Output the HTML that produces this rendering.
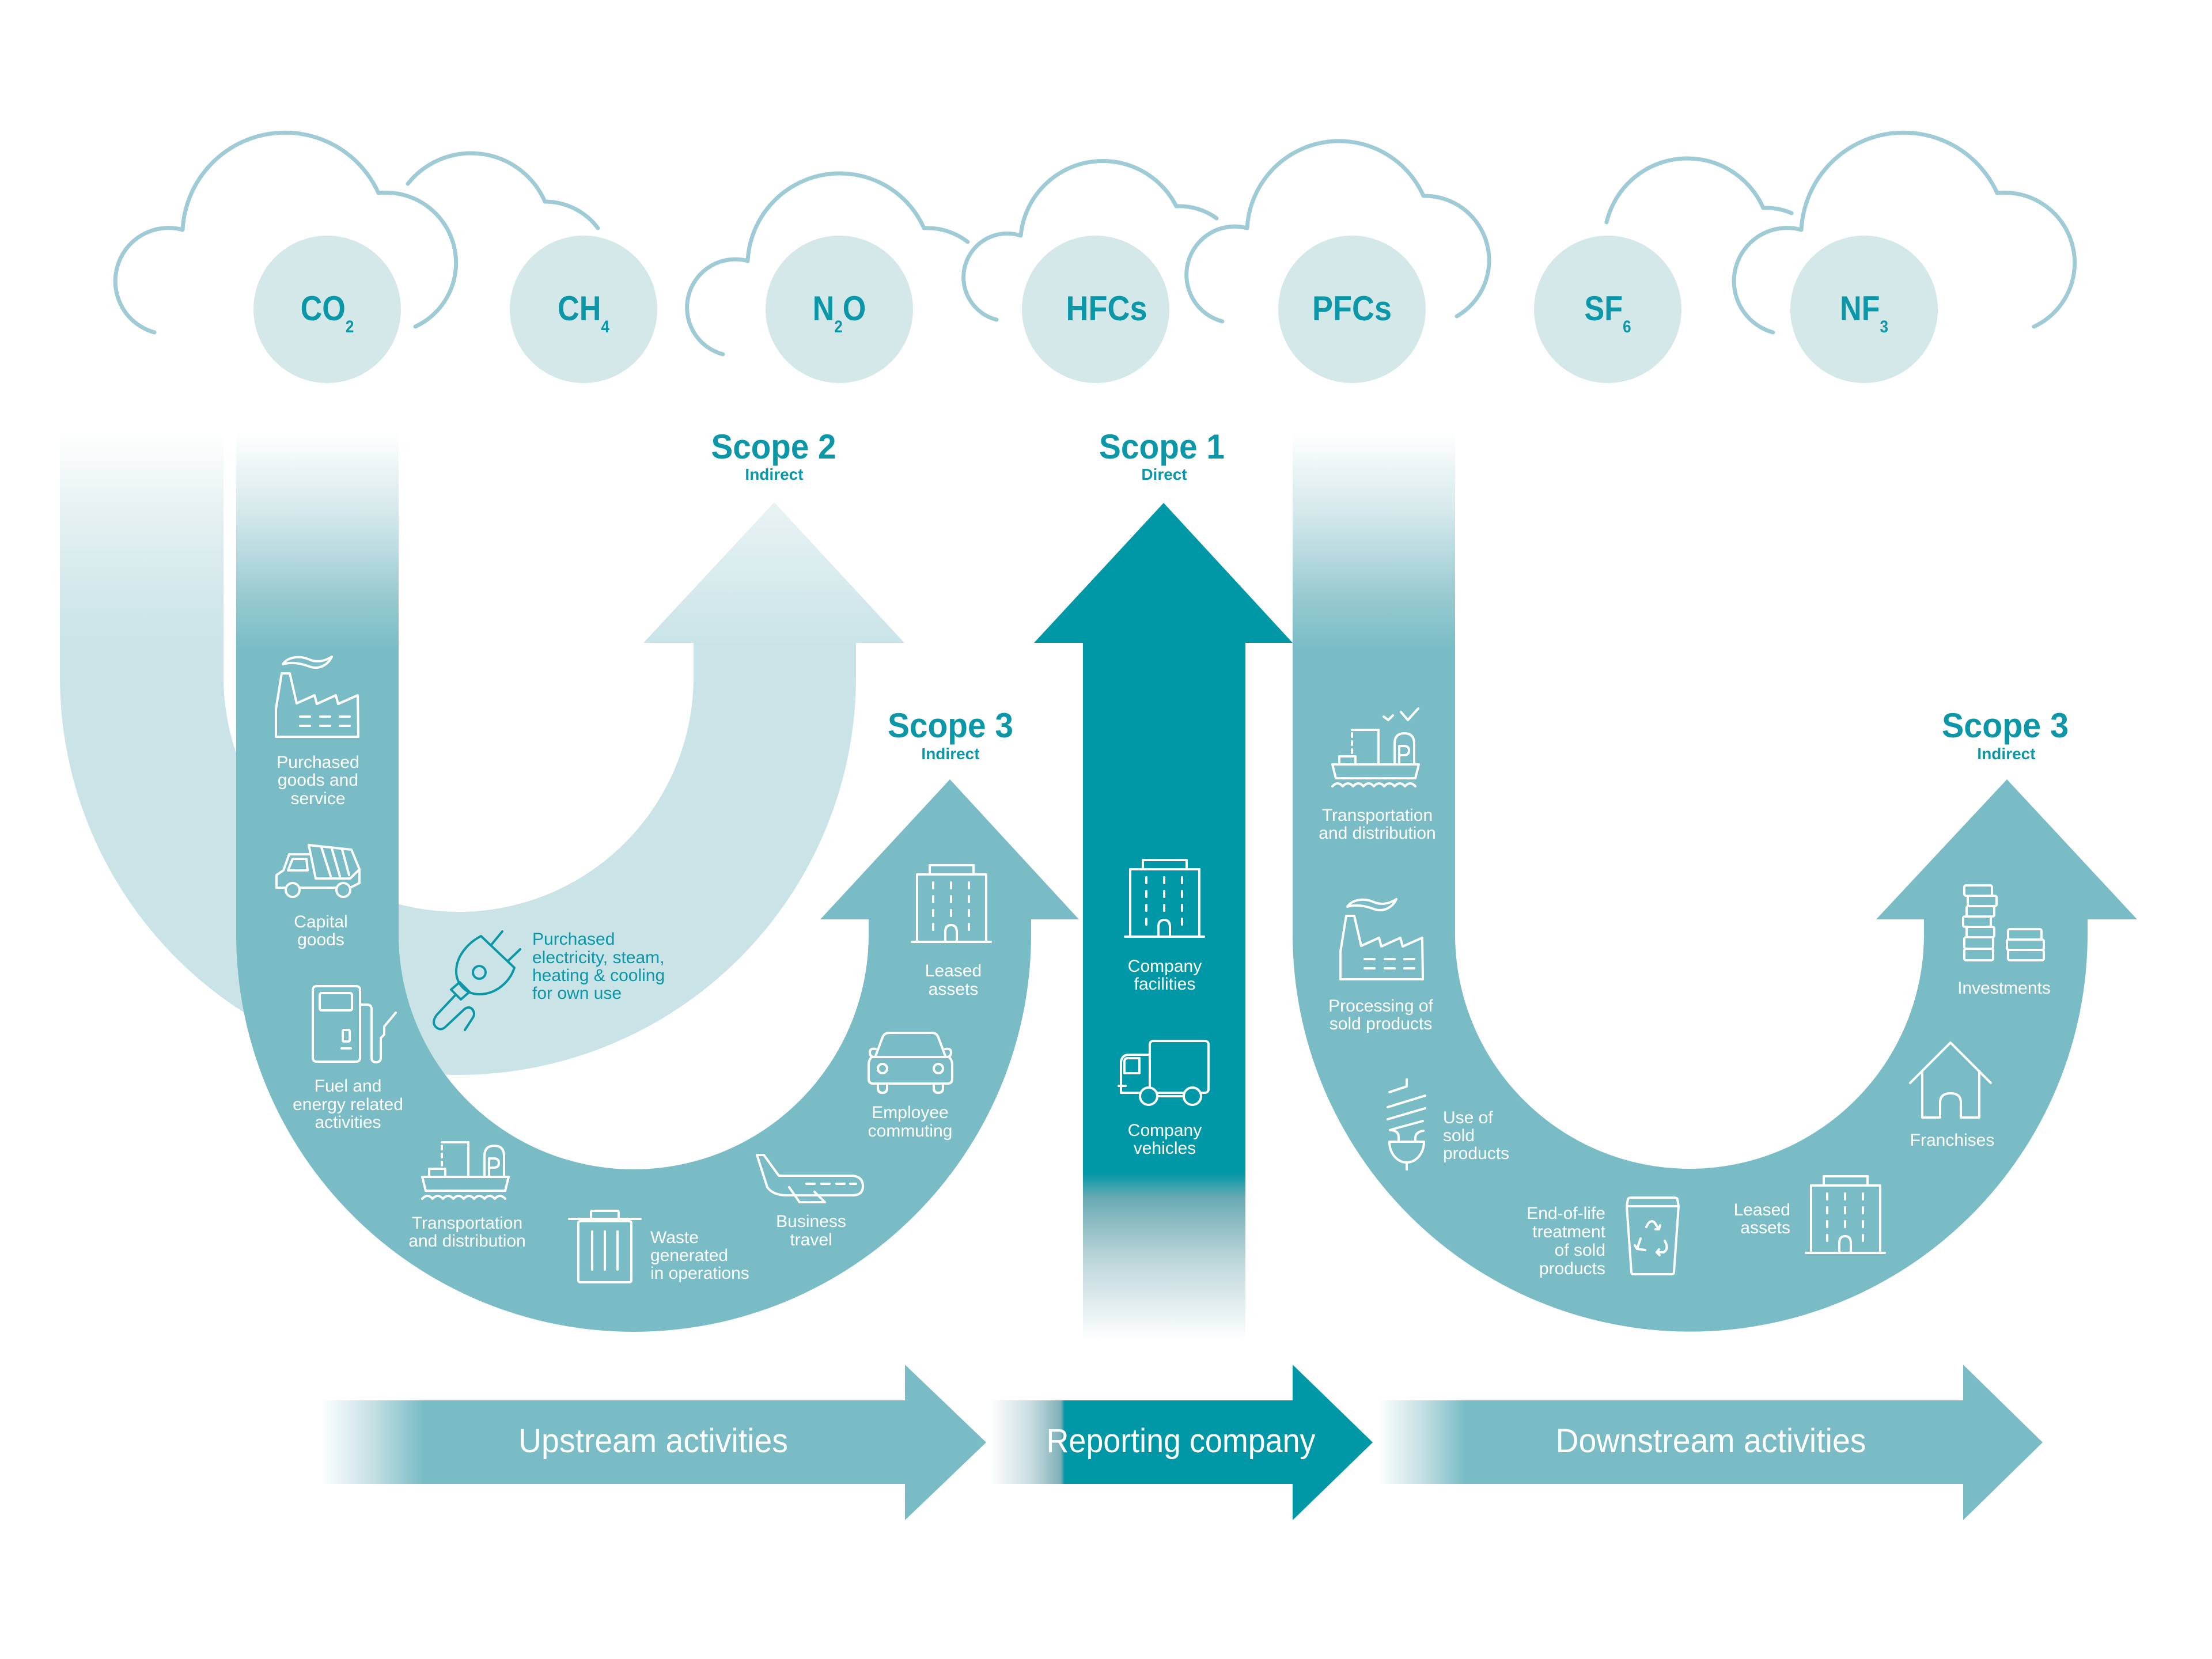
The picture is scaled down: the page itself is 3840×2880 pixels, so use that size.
<!DOCTYPE html>
<html>
<head>
<meta charset="utf-8">
<style>
html,body{margin:0;padding:0;background:#fff;}
svg{display:block;}
.w{font-family:"Liberation Sans",sans-serif;font-size:30px;fill:#ffffff;}
.t{font-family:"Liberation Sans",sans-serif;font-size:30px;fill:#0b97a7;}
.sc{font-family:"Liberation Sans",sans-serif;font-weight:bold;fill:#0b97a7;}
.ic{fill:none;stroke:#ffffff;stroke-width:4;stroke-linecap:round;stroke-linejoin:round;}
</style>
</head>
<body>
<svg xmlns="http://www.w3.org/2000/svg" width="3840" height="2880" viewBox="0 0 3840 2880">
<defs>
  <linearGradient id="gLightCol" gradientUnits="userSpaceOnUse" x1="0" y1="750" x2="0" y2="1180">
    <stop offset="0" stop-color="#ffffff"/>
    <stop offset="0.3" stop-color="#e7f2f3"/>
    <stop offset="0.5" stop-color="#dbecee"/>
    <stop offset="0.8" stop-color="#cce5e8"/>
    <stop offset="1" stop-color="#c9e3e6"/>
  </linearGradient>
  <linearGradient id="gMedCol" gradientUnits="userSpaceOnUse" x1="0" y1="750" x2="0" y2="1130">
    <stop offset="0" stop-color="#ffffff"/>
    <stop offset="0.34" stop-color="#d8eaec"/>
    <stop offset="0.57" stop-color="#b6d9de"/>
    <stop offset="0.76" stop-color="#97c9d0"/>
    <stop offset="1" stop-color="#79bcc6"/>
  </linearGradient>
  <linearGradient id="gS2Head" gradientUnits="userSpaceOnUse" x1="0" y1="872" x2="0" y2="1116">
    <stop offset="0" stop-color="#e9f3f4"/>
    <stop offset="1" stop-color="#cae4e7"/>
  </linearGradient>
  <linearGradient id="gS1Fade" gradientUnits="userSpaceOnUse" x1="0" y1="2036" x2="0" y2="2325">
    <stop offset="0" stop-color="#0097a7"/>
    <stop offset="0.15" stop-color="#6aaab3"/>
    <stop offset="0.5" stop-color="#b9d4d8"/>
    <stop offset="1" stop-color="#ffffff"/>
  </linearGradient>
  <linearGradient id="gUp" gradientUnits="userSpaceOnUse" x1="557" y1="0" x2="735" y2="0">
    <stop offset="0" stop-color="#ffffff"/>
    <stop offset="0.5" stop-color="#c5e0e4"/>
    <stop offset="1" stop-color="#79bcc6"/>
  </linearGradient>
  <linearGradient id="gRep" gradientUnits="userSpaceOnUse" x1="1718" y1="0" x2="1848" y2="0">
    <stop offset="0" stop-color="#ffffff"/>
    <stop offset="0.55" stop-color="#c8dcdf"/>
    <stop offset="0.95" stop-color="#7eb0b8"/>
    <stop offset="1" stop-color="#0097a7"/>
  </linearGradient>
  <linearGradient id="gDown" gradientUnits="userSpaceOnUse" x1="2391" y1="0" x2="2544" y2="0">
    <stop offset="0" stop-color="#ffffff"/>
    <stop offset="0.5" stop-color="#c5e0e4"/>
    <stop offset="1" stop-color="#79bcc6"/>
  </linearGradient>
</defs>

<rect width="3840" height="2880" fill="#ffffff"/>

<!-- Clouds -->
<g fill="none" stroke="#9ecbd6" stroke-width="7" stroke-linecap="round" stroke-linejoin="round">
  <path d="M268,577 A92,92 0 1 1 317,399 A178,178 0 0 1 657,335 A122,122 0 0 1 721,567"/>
  <path d="M708,319 A140,140 0 0 1 946,350 A115,115 0 0 1 1038,396"/>
  <path d="M1255,615 A80,80 0 1 1 1298,453 A160,160 0 0 1 1604,396 A115,115 0 0 1 1680,420"/>
  <path d="M1730,555 A76,76 0 1 1 1772,409 A143,143 0 0 1 2042,358 A110,110 0 0 1 2112,379"/>
  <path d="M2122,558 A80,80 0 1 1 2165,396 A160,160 0 0 1 2471,340 A112,112 0 0 1 2529,549"/>
  <path d="M2789,386 A144,144 0 0 1 3061,361 A110,110 0 0 1 3110,370"/>
  <path d="M3078,577 A92,92 0 1 1 3127,399 A178,178 0 0 1 3467,335 A122,122 0 0 1 3531,567"/>
</g>

<!-- Gas circles -->
<g fill="#d4e8e9">
  <circle cx="568" cy="537" r="128"/>
  <circle cx="1013" cy="537" r="128"/>
  <circle cx="1457" cy="537" r="128"/>
  <circle cx="1902" cy="537" r="128"/>
  <circle cx="2347" cy="537" r="128"/>
  <circle cx="2791" cy="537" r="128"/>
  <circle cx="3236" cy="537" r="128"/>
</g>
<g class="sc" font-size="60" text-anchor="middle">
  <text transform="translate(568,556) scale(0.87,1)">CO<tspan font-size="30" dy="21">2</tspan></text>
  <text transform="translate(1013,556) scale(0.87,1)">CH<tspan font-size="30" dy="21">4</tspan></text>
  <text transform="translate(1457,556) scale(0.87,1)">N<tspan font-size="30" dy="21">2</tspan><tspan dy="-21">O</tspan></text>
  <text transform="translate(1921,556) scale(0.9,1)">HFCs</text>
  <text transform="translate(2347,556) scale(0.9,1)">PFCs</text>
  <text transform="translate(2791,556) scale(0.87,1)">SF<tspan font-size="30" dy="21">6</tspan></text>
  <text transform="translate(3236,556) scale(0.87,1)">NF<tspan font-size="30" dy="21">3</tspan></text>
</g>

<!-- Scope 2 light U -->
<rect x="104" y="750" width="284" height="430" fill="url(#gLightCol)"/>
<path d="M104,1170 L104,1175 A691,691 0 0 0 1486,1175 L1486,1113 L1204,1113 L1204,1175 A408,408 0 0 1 388,1175 L388,1170 Z" fill="#c9e3e6"/>
<polygon points="1117,1116 1344,872 1570,1116" fill="url(#gS2Head)"/>

<!-- Upstream Scope 3 medium U -->
<rect x="410" y="750" width="282" height="385" fill="url(#gMedCol)"/>
<path d="M410,1130 L410,1622 A690,690 0 0 0 1790,1622 L1790,1596 L1873,1596 L1649,1353 L1424,1596 L1508,1596 L1508,1622 A408,408 0 0 1 692,1622 L692,1130 Z" fill="#79bcc6"/>

<!-- Scope 1 arrow -->
<polygon points="1795,1116 2020,873 2244,1116" fill="#0097a7"/>
<rect x="1880" y="1114" width="282" height="926" fill="#0097a7"/>
<rect x="1880" y="2036" width="282" height="292" fill="url(#gS1Fade)"/>

<!-- Downstream medium U -->
<rect x="2244" y="750" width="282" height="385" fill="url(#gMedCol)"/>
<path d="M2244,1130 L2244,1622 A690,690 0 0 0 3624,1622 L3624,1596 L3710,1596 L3484,1353 L3257,1596 L3340,1596 L3340,1622 A407,407 0 0 1 2526,1622 L2526,1130 Z" fill="#79bcc6"/>

<!-- Scope labels -->
<g class="sc" text-anchor="middle">
  <text x="1343" y="796" font-size="60" textLength="217" lengthAdjust="spacingAndGlyphs">Scope 2</text>
  <text x="1344" y="833" font-size="28">Indirect</text>
  <text x="2017" y="796" font-size="60" textLength="218" lengthAdjust="spacingAndGlyphs">Scope 1</text>
  <text x="2021" y="833" font-size="28">Direct</text>
  <text x="1650" y="1280" font-size="60" textLength="218" lengthAdjust="spacingAndGlyphs">Scope 3</text>
  <text x="1650" y="1318" font-size="28">Indirect</text>
  <text x="3481" y="1280" font-size="60" textLength="220" lengthAdjust="spacingAndGlyphs">Scope 3</text>
  <text x="3483" y="1318" font-size="28">Indirect</text>
</g>

<!-- ===== Icons ===== -->
<!-- Factory (purchased goods) -->
<g class="ic" transform="translate(479,1137)">
  <path d="M12,16 C20,4 40,0 58,8 C72,14 86,10 97,3 C90,18 74,26 58,20 C42,14 26,12 12,16 Z"/>
  <path d="M0,142 L0,94 L10,32 L24,32 L36,84 L67,70 L71,85 L104,70 L108,85 L142,70 L143,142 Z"/>
  <path d="M42,107 H59 M77,107 H94 M111,107 H128 M42,123 H59 M77,123 H94 M111,123 H128"/>
</g>
<!-- Dump truck (capital goods) -->
<g class="ic" transform="translate(478,1463)">
  <path d="M58,4 L132,12 L146,46 L130,62 L70,62 Z"/>
  <path d="M80,8 L96,58 M98,10 L112,58 M116,12 L128,56"/>
  <path d="M58,20 L24,20 L14,48 L2,56 L2,78 L18,78"/>
  <path d="M22,48 L30,28 L54,28 L56,48 Z"/>
  <path d="M42,78 L106,78 M130,78 L146,70 L146,46"/>
  <circle cx="30" cy="82" r="12"/>
  <circle cx="118" cy="82" r="12"/>
</g>
<!-- Fuel pump -->
<g class="ic" transform="translate(541,1710)">
  <rect x="2" y="2" width="82" height="131" rx="6"/>
  <rect x="14" y="14" width="56" height="30" rx="3"/>
  <rect x="54" y="78" width="12" height="20" rx="2"/>
  <path d="M52,110 L68,110"/>
  <path d="M84,34 L96,34 Q104,34 104,42 L104,126 Q104,134 112,134 Q120,134 120,126 L120,92 L126,86 L126,72 L146,48"/>
</g>
<!-- Ship upstream -->
<g class="ic" transform="translate(731,1981)">
  <path d="M2,62 L152,62 L146,86 L8,86 Z"/>
  <path d="M36,2 L82,2 L82,62"/>
  <path d="M36,8 L36,46" stroke-dasharray="6 8"/>
  <rect x="14" y="48" width="28" height="14"/>
  <path d="M110,62 L110,26 Q110,8 127,8 Q144,8 144,26 L144,62"/>
  <path d="M118,62 L118,30 L126,30 Q135,30 135,38 Q135,46 126,46 L118,46"/>
  <path d="M2,100 q9,-10 18,0 q9,-10 18,0 q9,-10 18,0 q9,-10 18,0 q9,-10 18,0 q9,-10 18,0 q9,-10 18,0 q9,-10 18,0"/>
</g>
<!-- Waste bin -->
<g class="ic" transform="translate(986,2100)">
  <rect x="40" y="2" width="48" height="14" rx="2"/>
  <path d="M2,16 L126,16"/>
  <rect x="18" y="20" width="92" height="106" rx="3"/>
  <path d="M42,38 L42,104 M64,38 L64,104 M86,38 L86,104"/>
</g>
<!-- Plane -->
<g class="ic" transform="translate(1310,2003)">
  <path d="M4,2 L16,2 L42,38 L170,38 Q188,40 188,56 Q188,72 170,72 L56,72 Q32,72 22,58 Z"/>
  <path d="M60,58 L78,84 L122,84 L104,66"/>
  <path d="M90,52 L104,52 M116,52 L130,52 M142,52 L156,52 M166,52 L176,52"/>
</g>
<!-- Car -->
<g class="ic" transform="translate(1508,1791)">
  <path d="M12,42 L24,10 Q27,2 36,2 L110,2 Q118,2 121,10 L133,42"/>
  <path d="M6,44 Q0,48 0,58 L0,82 Q0,90 8,90 L137,90 Q145,90 145,82 L145,58 Q145,48 139,44 Z"/>
  <path d="M12,30 Q2,28 2,36 Q2,44 10,44 M133,30 Q143,28 143,36 Q143,44 135,44"/>
  <circle cx="24" cy="64" r="8"/>
  <circle cx="121" cy="64" r="8"/>
  <path d="M16,90 L16,98 Q16,106 24,106 Q32,106 32,98 L32,90 M113,90 L113,98 Q113,106 121,106 Q129,106 129,98 L129,90"/>
</g>
<!-- Building (leased assets upstream) -->
<g class="ic" transform="translate(1583,1500)">
  <rect x="31" y="2" width="76" height="16"/>
  <rect x="9" y="18" width="120" height="117"/>
  <path d="M0,135 L137,135"/>
  <path d="M37,32 v10 M68,32 v10 M99,32 v10 M37,56 v10 M68,56 v10 M99,56 v10 M37,80 v10 M68,80 v10 M99,80 v10 M37,104 v10 M99,104 v10"/>
  <path d="M58,135 L58,118 Q58,106 68,106 Q78,106 78,118 L78,135"/>
</g>
<!-- Building (company facilities) -->
<g class="ic" transform="translate(1953,1491)">
  <rect x="31" y="2" width="76" height="16"/>
  <rect x="9" y="18" width="120" height="117"/>
  <path d="M0,135 L137,135"/>
  <path d="M37,32 v10 M68,32 v10 M99,32 v10 M37,56 v10 M68,56 v10 M99,56 v10 M37,80 v10 M68,80 v10 M99,80 v10 M37,104 v10 M99,104 v10"/>
  <path d="M58,135 L58,118 Q58,106 68,106 Q78,106 78,118 L78,135"/>
</g>
<!-- Truck (company vehicles) -->
<g class="ic" transform="translate(1942,1805)">
  <rect x="54" y="2" width="102" height="90" rx="6"/>
  <path d="M54,26 L18,26 Q6,26 4,38 L4,92 L54,92"/>
  <path d="M10,58 L10,38 Q10,32 16,32 L36,32 L36,58 Z"/>
  <path d="M0,80 L12,80"/>
  <path d="M67,98 L113,98"/>
  <circle cx="52" cy="98" r="15" fill="#0097a7"/>
  <circle cx="128" cy="98" r="15" fill="#0097a7"/>
</g>
<!-- Ship downstream + birds -->
<g class="ic" transform="translate(2311,1265)">
  <path d="M2,62 L152,62 L146,86 L8,86 Z"/>
  <path d="M36,2 L82,2 L82,62"/>
  <path d="M36,8 L36,46" stroke-dasharray="6 8"/>
  <rect x="14" y="48" width="28" height="14"/>
  <path d="M110,62 L110,26 Q110,8 127,8 Q144,8 144,26 L144,62"/>
  <path d="M118,62 L118,30 L126,30 Q135,30 135,38 Q135,46 126,46 L118,46"/>
  <path d="M2,100 q9,-10 18,0 q9,-10 18,0 q9,-10 18,0 q9,-10 18,0 q9,-10 18,0 q9,-10 18,0 q9,-10 18,0 q9,-10 18,0"/>
</g>
<g class="ic">
  <path d="M2402,1244 L2410,1250 L2418,1242"/>
  <path d="M2432,1236 L2444,1250 L2462,1230"/>
</g>
<!-- Factory (processing of sold products) -->
<g class="ic" transform="translate(2327,1558)">
  <path d="M12,16 C20,4 40,0 58,8 C72,14 86,10 97,3 C90,18 74,26 58,20 C42,14 26,12 12,16 Z"/>
  <path d="M0,142 L0,94 L10,32 L24,32 L36,84 L67,70 L71,85 L104,70 L108,85 L142,70 L143,142 Z"/>
  <path d="M42,107 H59 M77,107 H94 M111,107 H128 M42,123 H59 M77,123 H94 M111,123 H128"/>
</g>
<!-- Bulb (use of sold products) -->
<g class="ic">
  <path d="M2442,1874 L2442,1886 L2412,1896"/>
  <path d="M2409,1922 L2474,1902 M2409,1943 L2474,1924 M2415,1961 L2470,1946"/>
  <path d="M2413,1962 Q2428,1962 2428,1974 L2428,1982 M2471,1963 Q2457,1965 2457,1976 L2457,1982"/>
  <path d="M2412,1982 L2472,1982 A30,36 0 0 1 2412,1982 Z"/>
  <path d="M2442,2018 L2442,2030"/>
</g>
<!-- End-of-life bin -->
<g class="ic" transform="translate(2818,2078)">
  <path d="M6,16 L8,4 Q9,1 14,1 L88,1 Q93,1 94,4 L96,16 Z"/>
  <path d="M6,16 L14,130 Q14,134 18,134 L84,134 Q88,134 88,130 L96,16"/>
  <path d="M40,52 Q46,38 54,44 L62,56 M56,56 L62,56 L64,49"/>
  <path d="M30,72 L24,90 L38,92 M24,90 L20,84"/>
  <path d="M72,76 Q80,90 70,96 L58,96 M62,91 L58,96 L63,101"/>
</g>
<!-- Building (leased assets downstream) -->
<g class="ic" transform="translate(3135,2040)">
  <rect x="31" y="2" width="76" height="16"/>
  <rect x="9" y="18" width="120" height="117"/>
  <path d="M0,135 L137,135"/>
  <path d="M37,32 v10 M68,32 v10 M99,32 v10 M37,56 v10 M68,56 v10 M99,56 v10 M37,80 v10 M68,80 v10 M99,80 v10 M37,104 v10 M99,104 v10"/>
  <path d="M58,135 L58,118 Q58,106 68,106 Q78,106 78,118 L78,135"/>
</g>
<!-- House (franchises) -->
<g class="ic" transform="translate(3316,1808)">
  <path d="M0,72 L70,2 L140,72"/>
  <path d="M21,51 L21,132 L52,132 L52,106 Q52,90 70,90 Q88,90 88,106 L88,132 L120,132 L120,51"/>
</g>
<!-- Coins (investments) -->
<g class="ic" transform="translate(3408,1535)">
  <rect x="2" y="2" width="48" height="18" rx="3"/>
  <rect x="8" y="20" width="50" height="18" rx="3"/>
  <rect x="6" y="38" width="48" height="18" rx="3"/>
  <rect x="0" y="56" width="48" height="18" rx="3"/>
  <rect x="6" y="74" width="48" height="18" rx="3"/>
  <rect x="2" y="92" width="50" height="20" rx="3"/>
  <rect x="2" y="112" width="50" height="20" rx="3"/>
  <rect x="78" y="78" width="58" height="18" rx="3"/>
  <rect x="76" y="96" width="64" height="18" rx="3"/>
  <rect x="78" y="114" width="62" height="18" rx="3"/>
</g>
<!-- Plug (teal) -->
<g fill="none" stroke="#0b97a7" stroke-width="4" stroke-linecap="round" stroke-linejoin="round">
  <path d="M835,1625 L893,1680 C885,1705 860,1727 830,1726 C808,1725 792,1708 792,1686 C792,1660 812,1637 835,1625 Z"/>
  <path d="M853,1640 L872,1617 M882,1668 L903,1648"/>
  <circle cx="832" cy="1688" r="11"/>
  <path d="M783,1718 L800,1735 L815,1722 L798,1705 Z"/>
  <path d="M790,1728 L758,1762 Q748,1776 758,1784 Q766,1790 774,1782 L806,1752 Q814,1746 820,1752 Q826,1760 820,1768 L807,1788"/>
</g>

<!-- ===== Labels ===== -->
<text class="w" text-anchor="middle"><tspan x="552" y="1333">Purchased</tspan><tspan x="552" y="1364">goods and</tspan><tspan x="552" y="1396">service</tspan></text>
<text class="w" text-anchor="middle"><tspan x="557" y="1610">Capital</tspan><tspan x="557" y="1641">goods</tspan></text>
<text class="w" text-anchor="middle"><tspan x="604" y="1895">Fuel and</tspan><tspan x="604" y="1927">energy related</tspan><tspan x="604" y="1958">activities</tspan></text>
<text class="w" text-anchor="middle"><tspan x="811" y="2133">Transportation</tspan><tspan x="811" y="2164">and distribution</tspan></text>
<text class="w"><tspan x="1129" y="2158">Waste</tspan><tspan x="1129" y="2189">generated</tspan><tspan x="1129" y="2220">in operations</tspan></text>
<text class="w" text-anchor="middle"><tspan x="1408" y="2130">Business</tspan><tspan x="1408" y="2162">travel</tspan></text>
<text class="w" text-anchor="middle"><tspan x="1580" y="1941">Employee</tspan><tspan x="1580" y="1973">commuting</tspan></text>
<text class="w" text-anchor="middle"><tspan x="1655" y="1695">Leased</tspan><tspan x="1655" y="1727">assets</tspan></text>
<text class="t"><tspan x="924" y="1640">Purchased</tspan><tspan x="924" y="1672">electricity, steam,</tspan><tspan x="924" y="1703">heating &amp; cooling</tspan><tspan x="924" y="1734">for own use</tspan></text>

<text class="w" text-anchor="middle"><tspan x="2022" y="1687">Company</tspan><tspan x="2022" y="1718">facilities</tspan></text>
<text class="w" text-anchor="middle"><tspan x="2022" y="1972">Company</tspan><tspan x="2022" y="2003">vehicles</tspan></text>

<text class="w" text-anchor="middle"><tspan x="2391" y="1425">Transportation</tspan><tspan x="2391" y="1456">and distribution</tspan></text>
<text class="w" text-anchor="middle"><tspan x="2397" y="1756">Processing of</tspan><tspan x="2397" y="1787">sold products</tspan></text>
<text class="w"><tspan x="2505" y="1950">Use of</tspan><tspan x="2505" y="1981">sold</tspan><tspan x="2505" y="2012">products</tspan></text>
<text class="w" text-anchor="end"><tspan x="2787" y="2116">End-of-life</tspan><tspan x="2787" y="2148">treatment</tspan><tspan x="2787" y="2180">of sold</tspan><tspan x="2787" y="2212">products</tspan></text>
<text class="w" text-anchor="end"><tspan x="3108" y="2110">Leased</tspan><tspan x="3108" y="2141">assets</tspan></text>
<text class="w" text-anchor="middle" x="3389" y="1989">Franchises</text>
<text class="w" text-anchor="middle" x="3479" y="1725">Investments</text>

<!-- ===== Bottom arrows ===== -->
<path d="M557,2431 L1571,2431 L1571,2369 L1712,2504 L1571,2639 L1571,2576 L557,2576 Z" fill="url(#gUp)"/>
<path d="M1718,2431 L2244,2431 L2244,2369 L2383,2504 L2244,2639 L2244,2576 L1718,2576 Z" fill="url(#gRep)"/>
<path d="M2391,2431 L3408,2431 L3408,2369 L3546,2504 L3408,2639 L3408,2576 L2391,2576 Z" fill="url(#gDown)"/>
<g font-family="Liberation Sans, sans-serif" font-size="58" fill="#ffffff" text-anchor="middle">
  <text x="1134" y="2521" textLength="468" lengthAdjust="spacingAndGlyphs">Upstream activities</text>
  <text x="2050" y="2521" textLength="467" lengthAdjust="spacingAndGlyphs">Reporting company</text>
  <text x="2970" y="2521" textLength="539" lengthAdjust="spacingAndGlyphs">Downstream activities</text>
</g>
</svg>
</body>
</html>
